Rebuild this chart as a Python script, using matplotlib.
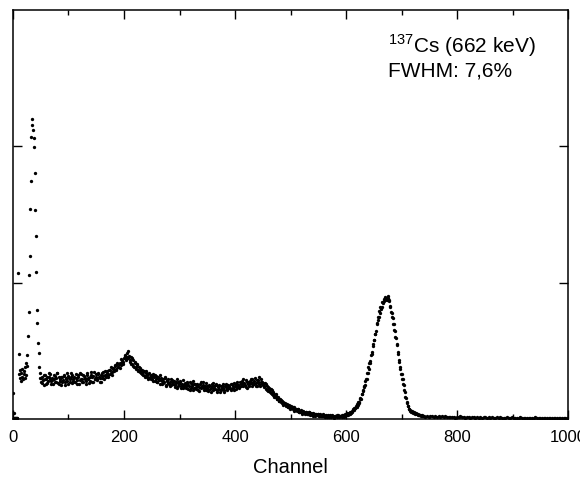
import numpy as np
import matplotlib
matplotlib.use("Agg")
import matplotlib.pyplot as plt

plt.rcParams['font.family'] = ['Liberation Sans', 'DejaVu Sans']
plt.rcParams['mathtext.fontset'] = 'custom'
plt.rcParams['mathtext.rm'] = 'Liberation Sans'

# low energy peak, channel 0..49, one value per channel
low_start = 0
low_counts = [190, 45, 8, 5, 6, 4, 7, 5, 6, 1073,
              478, 330, 360, 300, 280, 340, 310, 370, 290, 330,
              350, 300, 380, 320, 410, 390, 470, 610, 786, 1058,
              1198, 1543, 1749, 2072, 2153, 2197, 2120, 2060, 1992, 1808,
              1536, 1345, 1080, 801, 705, 558, 485, 382, 338, 300]

# compton continuum, even channels 50..598
cont_even_start = 50
cont_even = [270, 310, 285, 250, 320, 295, 265, 305, 330, 280,
             300, 255, 290, 315, 275, 335, 260, 295, 310, 270,
             285, 325, 250, 300, 280, 315, 290, 340, 265, 295,
             310, 275, 300, 255, 320, 285, 330, 290, 270, 315,
             295, 260, 335, 300, 280, 320, 305, 270, 345, 290,
             310, 285, 330, 300, 275, 340, 315, 295, 350, 320,
             335, 305, 360, 340, 320, 375, 350, 390, 365, 400,
             380, 410, 395, 430, 415, 450, 470, 440, 485, 445,
             420, 455, 400, 430, 385, 410, 365, 395, 350, 372,
             340, 362, 325, 350, 318, 340, 305, 332, 298, 322,
             290, 330, 305, 280, 315, 270, 300, 325, 285, 260,
             295, 275, 310, 250, 285, 265, 240, 295, 270, 255,
             280, 235, 265, 290, 245, 270, 225, 260, 285, 240,
             255, 230, 275, 250, 215, 265, 240, 280, 230, 255,
             220, 260, 245, 205, 270, 235, 250, 215, 240, 265,
             230, 205, 250, 225, 260, 210, 240, 220, 255, 200,
             235, 250, 215, 245, 225, 200, 240, 260, 220, 235,
             245, 210, 255, 230, 265, 240, 220, 270, 250, 235,
             260, 280, 240, 265, 250, 285, 230, 270, 255, 290,
             245, 275, 260, 300, 265, 240, 285, 255, 295, 270,
             250, 235, 265, 220, 240, 205, 225, 190, 210, 175,
             185, 160, 170, 145, 155, 130, 140, 120, 125, 110,
             115, 95, 105, 85, 100, 80, 90, 70, 85, 65,
             75, 60, 70, 55, 65, 45, 60, 50, 40, 55,
             45, 35, 50, 40, 30, 45, 35, 25, 40, 30,
             35, 25, 30, 20, 35, 25, 15, 30, 20, 25,
             15, 30, 20, 25, 10, 25, 20, 15, 30, 20,
             25, 15, 30, 20, 35]

# compton continuum, odd channels 51..599
cont_odd_start = 51
cont_odd = [300, 265, 325, 290, 260, 305, 280, 340, 295, 255,
            285, 320, 270, 300, 335, 265, 310, 280, 250, 305,
            315, 270, 295, 335, 260, 300, 275, 310, 325, 280,
            270, 330, 285, 305, 260, 340, 295, 275, 320, 300,
            280, 325, 290, 265, 310, 345, 275, 315, 295, 330,
            290, 335, 305, 270, 320, 300, 345, 325, 310, 355,
            320, 360, 330, 385, 345, 365, 395, 360, 410, 380,
            405, 375, 440, 420, 400, 465, 430, 455, 500, 460,
            435, 405, 445, 390, 420, 380, 400, 360, 385, 345,
            360, 330, 345, 310, 350, 320, 295, 340, 310, 290,
            315, 280, 325, 295, 270, 310, 285, 255, 300, 280,
            265, 300, 240, 280, 295, 255, 275, 250, 285, 260,
            250, 275, 230, 270, 255, 280, 240, 250, 230, 265,
            240, 265, 220, 245, 270, 230, 255, 215, 260, 235,
            250, 215, 235, 260, 225, 245, 270, 230, 210, 245,
            215, 245, 220, 195, 240, 265, 225, 250, 215, 240,
            220, 200, 240, 230, 255, 215, 235, 210, 250, 225,
            230, 260, 220, 245, 210, 255, 235, 250, 225, 275,
            245, 265, 290, 250, 235, 270, 260, 245, 280, 265,
            290, 255, 280, 240, 285, 270, 305, 245, 275, 260,
            265, 240, 255, 210, 235, 215, 195, 220, 180, 200,
            165, 180, 150, 165, 135, 150, 125, 135, 105, 120,
            100, 110, 90, 95, 75, 95, 80, 85, 60, 75,
            65, 70, 50, 60, 55, 40, 55, 45, 50, 40,
            40, 50, 30, 45, 40, 25, 40, 35, 30, 40,
            25, 35, 20, 30, 25, 30, 20, 15, 30, 20,
            25, 15, 30, 20, 15, 25, 30, 20, 15, 25,
            20, 30, 25, 15, 30]

# 662 keV photopeak, channel 600..739, one value per channel
peak_start = 600
peak_counts = [39, 31, 45, 36, 33, 47, 41, 38, 54, 46,
               60, 53, 70, 63, 64, 80, 81, 80, 99, 89,
               110, 104, 126, 118, 124, 146, 154, 150, 180, 183,
               214, 208, 240, 235, 248, 280, 290, 296, 335, 334,
               378, 370, 412, 408, 427, 468, 480, 490, 535, 552,
               580, 582, 624, 622, 648, 694, 702, 724, 748, 748,
               790, 780, 818, 810, 824, 856, 856, 850, 882, 864,
               895, 875, 888, 880, 876, 900, 886, 862, 872, 824,
               826, 784, 780, 745, 740, 700, 700, 652, 646, 604,
               595, 550, 544, 492, 478, 432, 420, 378, 370, 333,
               330, 296, 292, 255, 246, 210, 198, 165, 156, 126,
               120, 98, 94, 77, 75, 65, 60, 55, 58, 50,
               55, 47, 50, 43, 45, 38, 42, 35, 37, 31,
               34, 28, 31, 27, 29, 24, 27, 22, 25, 21]

# tail, channel 740..998, every 3rd channel
tail_start = 740
tail_counts = [22, 18, 25, 16, 21, 19, 14, 23, 17, 20,
               15, 19, 13, 21, 16, 12, 18, 14, 17, 11,
               16, 13, 19, 12, 15, 10, 17, 13, 11, 15,
               12, 9, 14, 11, 13, 8, 12, 15, 10, 12,
               9, 13, 11, 8, 12, 10, 14, 9, 11, 7,
               12, 10, 8, 13, 9, 11, 7, 10, 12, 8,
               10, 7, 11, 9, 6, 10, 8, 12, 7, 9,
               8, 11, 6, 9, 7, 10, 8, 6, 9, 7,
               8, 6, 9, 7, 5, 8, 6]

segments = [(low_start, 1, low_counts), (cont_even_start, 2, cont_even),
            (cont_odd_start, 2, cont_odd), (peak_start, 1, peak_counts),
            (tail_start, 3, tail_counts)]

channel = np.concatenate([s + step * np.arange(len(c)) for s, step, c in segments])
counts = np.concatenate([np.array(c, dtype=float) for _, _, c in segments])

fig = plt.figure(figsize=(5.8, 4.82), dpi=100)
ax = fig.add_axes([0.0224, 0.1307, 0.9570, 0.8485])

ax.plot(channel, counts, 'o', ms=2.4, color='black', mew=0)

ax.set_xlim(0, 1000)
ax.set_ylim(0, 3000)
ax.set_xticks(np.arange(0, 1001, 200))
ax.set_xticks(np.arange(100, 1000, 200), minor=True)
ax.set_yticks([1000, 2000])
ax.set_yticklabels([])

ax.tick_params(which='both', direction='in', top=True, right=True, width=1.0)
ax.tick_params(which='major', length=6.5, labelsize=12, pad=7.8)
ax.tick_params(which='minor', length=3.5)
for sp in ax.spines.values():
    sp.set_linewidth(1.1)

ax.set_xlabel("Channel", fontsize=14.5, labelpad=9.5)

ax.text(0.675, 0.945, r"$^{\mathrm{137}}$Cs (662 keV)", transform=ax.transAxes,
        fontsize=15, ha='left', va='top')
ax.text(0.675, 0.875, "FWHM: 7,6%", transform=ax.transAxes,
        fontsize=15, ha='left', va='top')

fig.savefig("out.png", dpi=100)
